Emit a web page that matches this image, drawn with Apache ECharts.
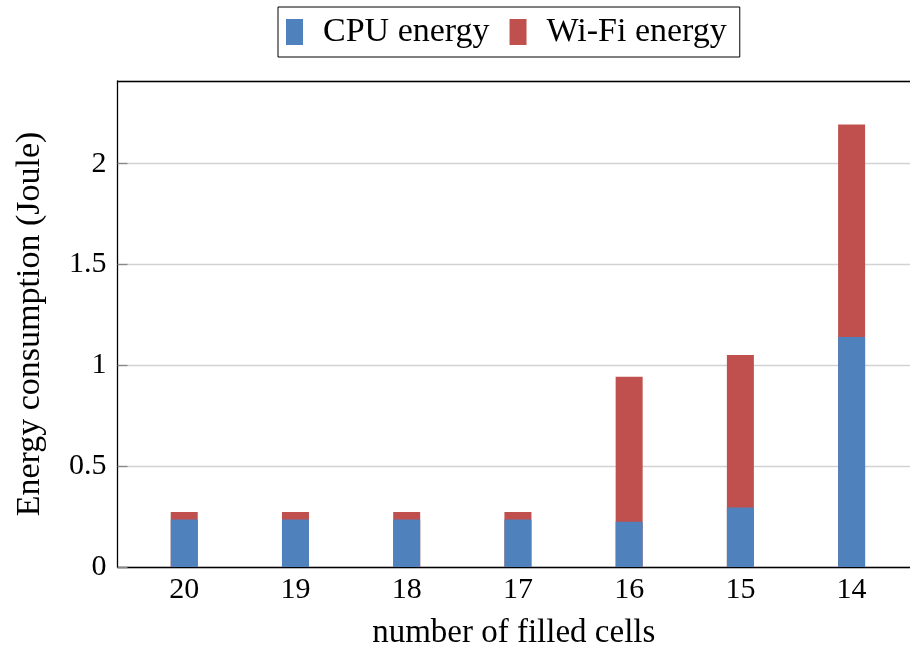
<!DOCTYPE html>
<html>
<head>
<meta charset="utf-8">
<script src="https://cdn.jsdelivr.net/npm/echarts@6/dist/echarts.min.js"></script>
<style>html,body{margin:0;padding:0;background:#fff}#c{width:910px;height:645px}</style>
</head>
<body>
<div id="c"></div>
<script>
const categories = ['20', '19', '18', '17', '16', '15', '14'];
const cpuEnergy = [0.235, 0.235, 0.235, 0.235, 0.225, 0.295, 1.141];
const wifiEnergy = [0.038, 0.038, 0.038, 0.038, 0.719, 0.756, 1.053];
const seriesNames = ['CPU energy', 'Wi-Fi energy'];
const yTicks = [0, 0.5, 1, 1.5, 2];

const FONT = 'Liberation Serif';
const chart = echarts.init(document.getElementById('c'), null, {renderer: 'canvas'});
const idx = categories.map((c, i) => i);
// Stacked: Wi-Fi segment sits on top of CPU segment (drawn as full stacked height behind CPU bar)
const cpuPts = cpuEnergy.map((v, i) => [i, v]);
const stackPts = wifiEnergy.map((v, i) => [i, cpuEnergy[i] + v]);

chart.setOption({
  animation: false,
  textStyle: {fontFamily: FONT, color: '#000'},
  legend: {
    left: 278, top: 7,
    padding: [8, 13, 8, 8],
    borderColor: '#000', borderWidth: 1,
    itemWidth: 17, itemHeight: 26, itemGap: 20,
    icon: 'rect',
    textStyle: {fontFamily: FONT, fontSize: 34, color: '#000', padding: [0, 0, 0, 15], lineHeight: 26},
    data: seriesNames
  },
  grid: {left: 117.5, right: 0, top: 81, bottom: 78, containLabel: false, outerBoundsMode: 'none'},
  xAxis: [{
    type: 'value', min: -0.6, max: 6.525,
    name: 'number of filled cells', nameLocation: 'middle', nameGap: 50, nameMoveOverlap: false,
    nameTextStyle: {fontFamily: FONT, fontSize: 33, color: '#000'},
    axisLine: {show: true, onZero: false, lineStyle: {color: '#000', width: 1.3}},
    axisTick: {show: false},
    splitLine: {show: false},
    axisLabel: {
      fontFamily: FONT, fontSize: 30, color: '#000', margin: 8,
      customValues: idx,
      formatter: v => categories[Math.round(v)]
    }
  }, {
    type: 'value', position: 'top', min: -0.6, max: 6.525,
    axisLine: {show: true, onZero: false, lineStyle: {color: '#000', width: 1.3}},
    axisTick: {show: false}, axisLabel: {show: false}, splitLine: {show: false}
  }],
  yAxis: {
    type: 'value', min: 0, max: 2.41, interval: 0.5,
    name: 'Energy consumption (Joule)', nameLocation: 'middle', nameGap: 70, nameMoveOverlap: false,
    nameTextStyle: {fontFamily: FONT, fontSize: 34, color: '#000'},
    axisLine: {show: true, onZero: false, lineStyle: {color: '#000', width: 1.3}},
    axisTick: {show: true, inside: true, length: 10, lineStyle: {color: '#888', width: 1.3}},
    splitLine: {show: true, lineStyle: {color: '#d3d3d3', width: 1.3}},
    axisLabel: {
      fontFamily: FONT, fontSize: 30, color: '#000', margin: 11, showMaxLabel: false,
      formatter: v => yTicks.includes(v) ? String(v) : ''
    }
  },
  series: [{
    name: seriesNames[1], type: 'bar', barWidth: 27, barGap: '-100%', z: 2,
    itemStyle: {color: '#c0504d'}, data: stackPts
  }, {
    name: seriesNames[0], type: 'bar', barWidth: 27, barGap: '-100%', z: 3,
    itemStyle: {color: '#4f81bd'}, data: cpuPts
  }]
});
</script>
</body>
</html>
